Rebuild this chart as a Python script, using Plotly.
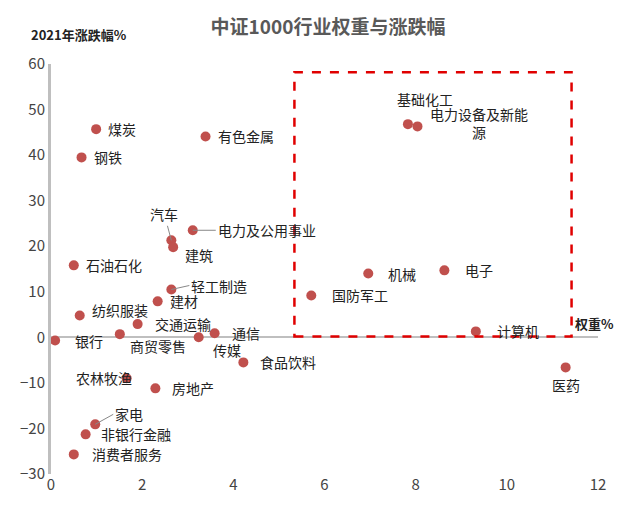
import plotly.graph_objects as go

names = ["煤炭","钢铁","有色金属","汽车","建筑","电力及公用事业","石油石化","轻工制造","建材","纺织服装",
         "交通运输","银行","商贸零售","传媒","通信","食品饮料","农林牧渔","房地产","家电","非银行金融",
         "消费者服务","基础化工","电力设备及新能<br>源","机械","电子","国防军工","计算机","医药"]
weight = [0.99,0.67,3.39,2.64,2.68,3.11,0.50,2.64,2.34,0.63,
          1.90,0.09,1.51,3.24,3.59,4.22,1.66,2.29,0.97,0.76,
          0.50,7.83,8.04,6.96,8.63,5.71,9.32,11.29]
change = [45.7,39.5,44.1,21.3,19.8,23.5,15.8,10.5,7.9,4.8,
          2.9,-0.7,0.7,0.0,0.9,-5.5,-9.0,-11.2,-19.1,-21.3,
          -25.7,46.8,46.3,14.0,14.7,9.2,1.3,-6.6]
xticks = [0,2,4,6,8,10,12]
yticks = [-30,-20,-10,0,10,20,30,40,50,60]
box_x = [5.34, 11.42]
box_y = [0.2, 58.2]

# label style: (xanchor, xshift, yshift, arrow(ax, ay) or None)
style = {
    "汽车": ("center", 0, 0, (-7, -26)),
    "建筑": ("left", 10, -8, None),
    "电力及公用事业": ("left", 0, 0, (23, 0)),
    "轻工制造": ("left", 0, 0, (18, -4)),
    "纺织服装": ("left", 10, 5, None),
    "交通运输": ("left", 15, 0, None),
    "银行": ("left", 18, 0, None),
    "商贸零售": ("left", 8, -12, None),
    "传媒": ("left", 12, -13, None),
    "通信": ("left", 15, 0, None),
    "食品饮料": ("left", 15, 0, None),
    "农林牧渔": ("right", 7, 0, None),
    "房地产": ("left", 15, 0, None),
    "家电": ("left", 0, 0, (18, -10)),
    "非银行金融": ("left", 13, 0, None),
    "消费者服务": ("left", 16, 0, None),
    "基础化工": ("center", 17, 25, None),
    "电力设备及新能<br>源": ("center", 62, 3, None),
    "机械": ("left", 18, 0, None),
    "电子": ("left", 19, 0, None),
    "国防军工": ("left", 19, 0, None),
    "计算机": ("left", 19, 0, None),
    "医药": ("center", 0, -18, None),
}

fig = go.Figure()
fig.add_trace(go.Scatter(x=weight, y=change, mode="markers",
                         marker=dict(color="#C0504D", size=10), hoverinfo="skip"))
fig.add_shape(type="rect", x0=box_x[0], x1=box_x[1], y0=box_y[0], y1=box_y[1],
              line=dict(color="#E00000", width=2.5, dash="dash"))

anns = []
for n, x, y in zip(names, weight, change):
    xa, xs, ys, arr = style.get(n, ("left", 10, 0, None))
    a = dict(x=x, y=y, text=n, xanchor=xa, yanchor="middle", xshift=xs, yshift=ys,
             font=dict(size=14, color="#222"), align="center")
    if arr:
        a.update(showarrow=True, arrowhead=0, arrowwidth=1, arrowcolor="#888",
                 ax=arr[0], ay=arr[1])
    else:
        a.update(showarrow=False)
    anns.append(a)
anns.append(dict(text="<b>2021年涨跌幅%</b>", xref="paper", yref="paper", x=-0.04, y=1.0,
                 yshift=18, xanchor="left", yanchor="bottom", showarrow=False,
                 font=dict(size=13, color="#222")))
anns.append(dict(text="<b>权重%</b>", x=12, y=0, xanchor="left", yanchor="bottom", xshift=-25,
                 yshift=2, showarrow=False, font=dict(size=13, color="#222")))
fig.update_layout(
    width=640, height=522, plot_bgcolor="white", paper_bgcolor="white",
    margin=dict(l=35, r=50, t=56, b=56), showlegend=False,
    font=dict(family="Noto Sans CJK SC", color="#444"),
    title=dict(text="<b>中证1000行业权重与涨跌幅</b>", x=0.5, y=0.975, xanchor="center",
               font=dict(size=19, color="#595959")),
    annotations=anns,
    xaxis=dict(range=[0, 12], tickvals=xticks, showgrid=False, zeroline=False,
               showline=False, tickfont=dict(size=15, color="#444")),
    yaxis=dict(range=[-30, 60], tickvals=yticks, showgrid=False, zeroline=True,
               zerolinecolor="#BFBFBF", zerolinewidth=2, showline=True,
               linecolor="#BFBFBF", linewidth=3, tickfont=dict(size=15, color="#444")),
)
fig.write_html("out.html")
